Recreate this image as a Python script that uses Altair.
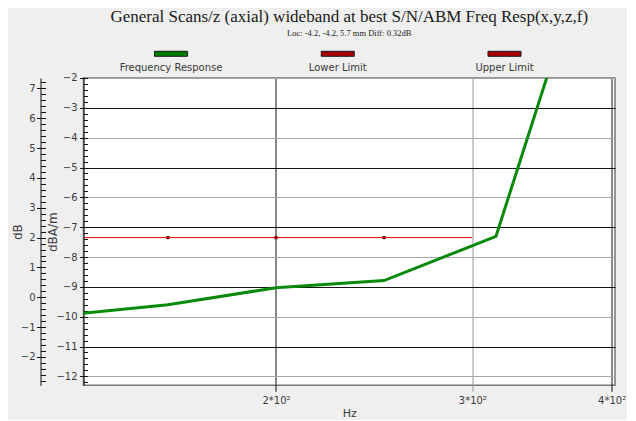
import altair as alt
import pandas as pd

# ---- data ----
freq_hz = [125, 160, 200, 250, 315, 400]
freq_resp_db = [-10.0, -9.60, -9.03, -8.79, -7.31, 4.8]

lower_hz = [125, 160, 200, 250, 300]
lower_db = [-7.35, -7.35, -7.35, -7.35, -7.35]
lower_marker_hz = [160, 200, 250]
lower_marker_db = [-7.35, -7.35, -7.35]

legend_names = ["Frequency Response", "Lower Limit", "Upper Limit"]
legend_colors = ["#007a00", "#a80000", "#a80000"]

x_ticks = [200, 300, 400]
inner_ticks = [-2, -3, -4, -5, -6, -7, -8, -9, -10, -11, -12]
outer_ticks = [7, 6, 5, 4, 3, 2, 1, 0, -1, -2]
inner_minor = [round(-12.2 + 0.2 * i, 1) for i in range(52)]
outer_minor = [round(-2.8 + 0.2 * i, 1) for i in range(51)]

x_domain = [134.4, 402.8]
inner_domain = [-12.3, -2.0]
outer_domain = [-2.95, 7.35]

TXT = "#3a3a3a"
LBL_FONT = "DejaVu Sans"

resp_df = pd.DataFrame({"hz": freq_hz, "db": freq_resp_db})
lower_df = pd.DataFrame({"hz": lower_hz, "db": lower_db})
marker_df = pd.DataFrame({"hz": lower_marker_hz, "db": lower_marker_db})
legend_df = pd.DataFrame({"name": legend_names})
inner_minor_df = pd.DataFrame({"v": inner_minor})
outer_df = pd.DataFrame({"v": outer_ticks})
outer_minor_df = pd.DataFrame({"v": outer_minor})

x_scale = alt.Scale(type="log", domain=x_domain, nice=False)
yin_scale = alt.Scale(domain=inner_domain, nice=False, zero=False)
yout_scale = alt.Scale(domain=outer_domain, nice=False, zero=False)

x_axis = alt.Axis(
    values=x_ticks,
    labelExpr="datum.value == 200 ? '2*10²' : datum.value == 300 ? '3*10²' : '4*10²'",
    title="Hz", titleFontWeight="normal", titleFontSize=11, titleColor=TXT,
    titleFont=LBL_FONT, titleY=28, titleBaseline="middle",
    labelFont=LBL_FONT, labelFontSize=10, labelColor=TXT, labelPadding=4,
    tickSize=6, domain=False,
    grid=True,
    gridColor={"condition": {"test": "datum.value == 300", "value": "#9a9a9a"}, "value": "#111111"},
    tickColor={"condition": {"test": "datum.value == 300", "value": "#9a9a9a"}, "value": "#111111"},
    gridOpacity=1, gridWidth=1,
)

yin_axis = alt.Axis(
    orient="left", values=inner_ticks, format="d",
    title="dBA/m", titleFontWeight="normal", titleFontSize=12, titleColor=TXT,
    titleFont=LBL_FONT, titleX=-31, titleBaseline="middle", titleAngle=270,
    labelFont=LBL_FONT, labelFontSize=10, labelColor=TXT, labelPadding=2.5,
    tickSize=4, tickColor="#111111", domainColor="#111111",
    grid=True,
    gridColor={"condition": {"test": "datum.value % 2 != 0", "value": "#111111"}, "value": "#a8a8a8"},
    gridOpacity=1, gridWidth=1,
)

resp = alt.Chart(resp_df).mark_line(clip=True, color="#0a8a0a", strokeWidth=3).encode(
    x=alt.X("hz:Q", scale=x_scale, axis=x_axis),
    y=alt.Y("db:Q", scale=yin_scale, axis=yin_axis),
)

lower = alt.Chart(lower_df).mark_line(clip=True, color="#e00000", strokeWidth=1).encode(
    x=alt.X("hz:Q", scale=x_scale, axis=None),
    y=alt.Y("db:Q", scale=yin_scale, axis=None),
)

markers = alt.Chart(marker_df).mark_square(size=10, color="#900000", opacity=1).encode(
    x=alt.X("hz:Q", scale=x_scale, axis=None),
    y=alt.Y("db:Q", scale=yin_scale, axis=None),
)

inner_minor_layer = alt.Chart(inner_minor_df).mark_point(opacity=0).encode(
    y=alt.Y("v:Q", scale=yin_scale, axis=alt.Axis(
        orient="left", offset=-4, values=inner_minor, tickSize=4, tickColor="#111111",
        labels=False, domain=False, grid=False, title=None)),
)

outer_layer = alt.Chart(outer_df).mark_point(opacity=0).encode(
    y=alt.Y("v:Q", scale=yout_scale, axis=alt.Axis(
        orient="left", offset=43, values=outer_ticks, format="d",
        title="dB", titleFontWeight="normal", titleFontSize=12, titleColor=TXT,
        titleFont=LBL_FONT, titleX=-23, titleBaseline="middle", titleAngle=270,
        labelFont=LBL_FONT, labelFontSize=10, labelColor=TXT, labelPadding=1.5,
        tickSize=4, tickColor="#111111", domainColor="#111111", grid=False)),
)

outer_minor_layer = alt.Chart(outer_minor_df).mark_point(opacity=0).encode(
    y=alt.Y("v:Q", scale=yout_scale, axis=alt.Axis(
        orient="left", offset=38, values=outer_minor, tickSize=5, tickColor="#111111",
        labels=False, domain=False, grid=False, title=None)),
)

legend_x = alt.X(
    "name:N",
    scale=alt.Scale(type="point", domain=legend_names, range=[87.5, 421], padding=0),
    axis=None,
)

legend_swatch = alt.Chart(legend_df).mark_tick(
    orient="horizontal", size=33, thickness=5, stroke="#1a1a1a", strokeWidth=1, opacity=1
).encode(
    x=legend_x,
    y=alt.value(-24.2),
    color=alt.Color("name:N", scale=alt.Scale(domain=legend_names, range=legend_colors), legend=None),
)

legend_text = alt.Chart(legend_df).mark_text(
    font=LBL_FONT, fontSize=10, color=TXT, baseline="middle", align="center"
).encode(
    x=legend_x,
    y=alt.value(-9.7),
    text="name:N",
)

chart = alt.layer(
    resp, lower, markers, inner_minor_layer, outer_layer, outer_minor_layer,
    legend_swatch, legend_text,
).resolve_scale(
    x="independent", y="independent", color="independent"
).properties(
    width=531.5, height=307.3,
    autosize=alt.AutoSizeParams(type="none"),
    padding={"left": 75.5, "top": 70, "right": 12, "bottom": 35},
    background="#efefef",
    title=alt.TitleParams(
        text="General Scans/z (axial) wideband at best S/N/ABM Freq Resp(x,y,z,f)",
        subtitle="Loc: -4.2, -4.2, 5.7 mm Diff: 0.32dB",
        font="Liberation Serif", fontSize=17, fontWeight="normal", color="#1a1a1a",
        subtitleFont="Liberation Serif", subtitleFontSize=8.5, subtitleColor="#1a1a1a",
        subtitlePadding=3, anchor="middle", frame="group", offset=12,
    ),
).configure_view(
    stroke="#777777", strokeWidth=1.5, fill="white"
)

chart.save("out.html", embed_options={"renderer": "svg", "actions": False})
